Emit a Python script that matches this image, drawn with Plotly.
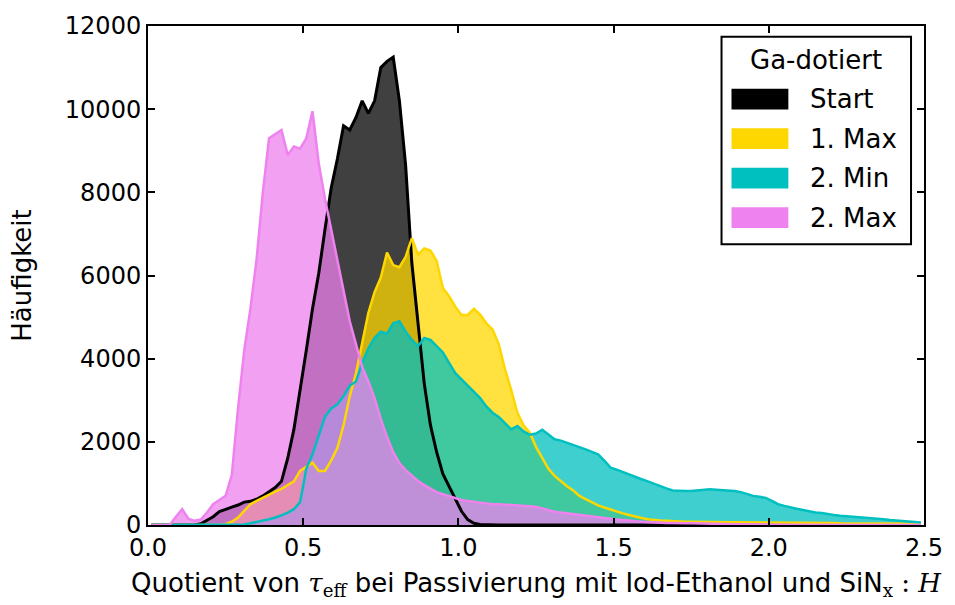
import numpy as np
import plotly.graph_objects as go

# Histogram bins (width 0.02 on 0 ... 2.5)
bin_width = 0.02
n_bins = 125
bin_centers = [round(bin_width * (k + 0.5), 3) for k in range(n_bins)]

legend_title = "Ga-dotiert"
series_names = ["Start", "1. Max", "2. Min", "2. Max"]

start_counts = [
    0, 0, 0, 0, 0, 0, 0, 0, 30, 120,
    200, 320, 380, 430, 480, 550, 570, 620, 700, 800,
    900, 1050, 1600, 2300, 3200, 4200, 5200, 6050, 7100, 8100,
    8800, 9600, 9500, 9800, 10200, 9900, 10200, 11000, 11150, 11250,
    10200, 8650, 6300, 4800, 3400, 2400, 1750, 1230, 930, 600,
    330, 130, 40, 15, 5] + [0] * 70

max1_counts = [0] * 12 + [
    20, 80, 180, 330, 500, 580, 660, 730,
    800, 870, 960, 1050, 1300, 1400, 1500, 1300, 1300, 1550,
    1850, 2400, 3100, 3650, 4350, 5100, 5600, 5950, 6550, 6250,
    6200, 6450, 6900, 6500, 6650, 6600, 6350, 5700, 5500, 5250,
    5050, 5050, 5200, 5060, 4850, 4700, 4350, 3750, 3250, 2700,
    2400, 2220, 1880, 1600, 1350, 1180, 1050, 930, 830, 700,
    620, 540, 470, 420, 370, 330, 280, 240, 200, 170,
    140, 120, 110, 100, 90, 85, 80, 80,
    75, 75, 70, 70, 70, 65, 65, 65, 60, 60, 60, 60, 55, 55,
    55, 55, 55, 50, 50, 50, 50, 50, 50, 45, 45, 45, 45,
    40, 40, 40, 35, 35, 35, 30, 30, 30, 30]

min2_counts = [0] * 15 + [
    10, 40, 70, 100, 140,
    180, 230, 300, 380, 550, 1350, 1700, 2150, 2600, 2800,
    2900, 3100, 3350, 3450, 3900, 4250, 4500, 4650, 4600, 4850,
    4900, 4650, 4450, 4300, 4500, 4450, 4300, 4150, 3900, 3650,
    3500, 3350, 3200, 3050, 2850, 2700, 2600, 2450, 2300, 2380,
    2250, 2170, 2200, 2290, 2180, 2060, 2030, 1980, 1930, 1870,
    1820, 1760, 1700, 1550, 1380, 1330, 1270, 1220, 1160, 1100,
    1050, 990, 940, 880, 830, 820, 820, 820, 830, 850,
    860, 850, 840, 830, 820, 790, 740, 700, 680, 650,
    580, 500, 460, 420, 390, 360, 330, 300, 290, 260,
    240, 220, 210, 200, 190, 180, 160, 150, 140, 120,
    110, 100, 80, 70, 60]

max2_counts = [
    0, 0, 0, 0, 200, 380, 150, 100, 130, 300,
    500, 600, 700, 1200, 2800, 4200, 5200, 6400, 8000, 9300,
    9400, 9500, 8900, 9100, 9050, 9300, 9950, 8700, 7850, 7100,
    6400, 5600, 4900, 4350, 3800, 3450, 3050, 2550, 2120, 1750,
    1490, 1320, 1180, 1060, 960, 870, 790, 740, 690, 640,
    600, 580, 560, 540, 520, 500, 500, 490, 480, 470,
    460, 460, 440, 400, 360, 320, 300, 280, 260, 240,
    220, 200, 180, 160, 140, 130, 120, 100, 90, 80,
    70, 60, 60, 50, 50, 40,
    40, 40, 35, 35, 30, 30, 25, 25, 20, 20,
    15, 15, 10, 10, 10, 5, 5, 5, 0, 0] + [0] * 19

series_counts = [start_counts, max1_counts, min2_counts, max2_counts]
line_colors = ["#000000", "#FFD700", "#00BFBF", "#EE82EE"]
line_widths = [3, 2.5, 2.5, 2.5]
fill_colors = ["rgba(0,0,0,0.75)", "rgba(255,215,0,0.75)",
               "rgba(0,191,191,0.75)", "rgba(238,130,238,0.75)"]

FONT = "DejaVu Sans"
fig = go.Figure()

# filled areas
for name, counts, fc in zip(series_names, series_counts, fill_colors):
    fig.add_trace(go.Scatter(
        x=bin_centers, y=counts, mode="lines", fill="tozeroy",
        fillcolor=fc, line=dict(width=0, color=fc), showlegend=False,
        hoverinfo="skip"))

# outlines
for name, counts, lc, lw in zip(series_names, series_counts, line_colors, line_widths):
    fig.add_trace(go.Scatter(
        x=bin_centers, y=counts, mode="lines",
        line=dict(width=lw, color=lc), showlegend=False, name=name))

# ---- legend box (matplotlib-style, patches) in paper coordinates ----
L, R, T, B = 148, 926, 22, 527          # plot area in pixels


def px(xp):
    return (xp - L) / (R - L)


def py(yp):
    return (B - yp) / (B - T)


shapes = [dict(type="rect", xref="paper", yref="paper",
               x0=px(723), x1=px(913), y0=py(243), y1=py(33),
               line=dict(color="black", width=2), fillcolor="white",
               layer="above")]
annotations = [dict(text=legend_title, xref="paper", yref="paper",
                    x=px(818), y=py(56), xanchor="center", yanchor="middle",
                    showarrow=False, font=dict(family=FONT, size=26, color="black"))]
for i, (name, lc) in enumerate(zip(series_names, line_colors)):
    yc = 96 + 40 * i
    shapes.append(dict(type="rect", xref="paper", yref="paper",
                       x0=px(733), x1=px(790), y0=py(yc + 10.5), y1=py(yc - 10.5),
                       line=dict(width=0), fillcolor=lc, layer="above"))
    annotations.append(dict(text=name, xref="paper", yref="paper",
                            x=px(810), y=py(yc), xanchor="left", yanchor="middle",
                            showarrow=False,
                            font=dict(family=FONT, size=26, color="black")))

axis_common = dict(
    showline=True, linewidth=2, linecolor="black", mirror="ticks",
    ticks="inside", ticklen=7, tickwidth=1.5, tickcolor="black",
    showgrid=False, zeroline=False,
    tickfont=dict(family=FONT, size=24, color="black"),
)

fig.update_layout(
    width=955, height=605,
    margin=dict(l=148, r=29, t=22, b=78),
    paper_bgcolor="white", plot_bgcolor="white",
    font=dict(family=FONT, size=24, color="black"),
    showlegend=False,
    shapes=shapes, annotations=annotations,
    xaxis=dict(range=[0, 2.5], dtick=0.5, tickformat=".1f",
               title=dict(
                   text=("Quotient von <span style='font-family:DejaVu Serif'><i>τ</i>"
                         "<sub>eff</sub></span> bei Passivierung mit Iod-Ethanol und "
                         "SiN<sub><span style='font-family:DejaVu Serif'>x</span></sub>"
                         "<span style='font-family:DejaVu Serif'> : <i>H</i></span>"),
                   font=dict(family=FONT, size=26), standoff=13),
               **axis_common),
    yaxis=dict(range=[0, 12000], dtick=2000, tickformat="d",
               title=dict(text="Häufigkeit", font=dict(family=FONT, size=26),
                          standoff=26),
               **axis_common),
)

fig.write_html("out.html")
